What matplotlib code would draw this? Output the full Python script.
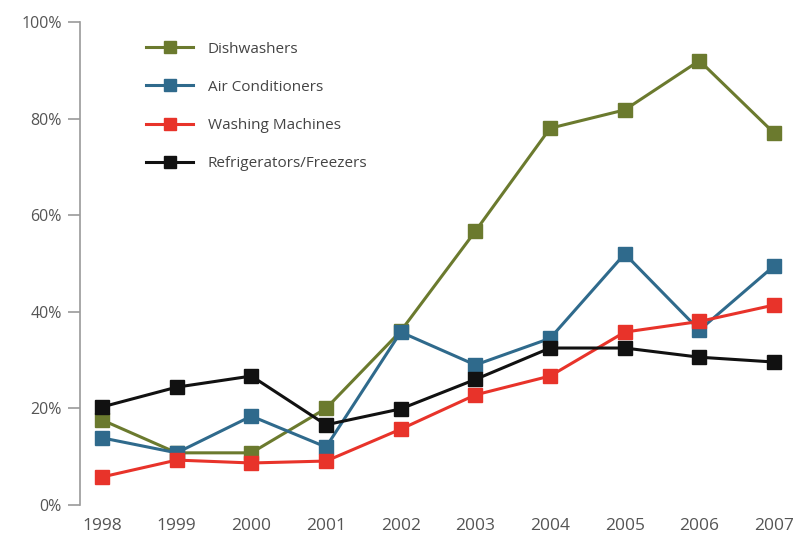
import numpy as np
import matplotlib
matplotlib.use("Agg")
import matplotlib.pyplot as plt

years = [1998, 1999, 2000, 2001, 2002, 2003, 2004, 2005, 2006, 2007]
dishwashers = [17.6, 10.8, 10.8, 20.0, 36.0, 56.7, 78.0, 81.8, 92.0, 77.0]
air_conditioners = [13.9, 10.8, 18.4, 12.0, 35.8, 29.0, 34.5, 52.0, 36.2, 49.5]
washing_machines = [5.8, 9.3, 8.7, 9.1, 15.7, 22.8, 26.7, 35.8, 38.0, 41.4]
refrigerators = [20.3, 24.4, 26.7, 16.6, 19.9, 26.0, 32.5, 32.5, 30.6, 29.6]

series = [
    ("Dishwashers", dishwashers, "#6b7a2e"),
    ("Air Conditioners", air_conditioners, "#2f6a8c"),
    ("Washing Machines", washing_machines, "#e8332a"),
    ("Refrigerators/Freezers", refrigerators, "#111111"),
]

plt.rcParams['font.family'] = ['Open Sans', 'DejaVu Sans']

fig = plt.figure(figsize=(8.07, 5.36), dpi=100)
ax = fig.add_axes([80 / 807, 31 / 536, 715 / 807, 483 / 536])

for label, vals, col in series:
    ax.plot(years, vals, color=col, linewidth=2.2, marker="s", markersize=10.5, label=label)

ax.set_xlim(1997.705, 2007.28)
ax.set_ylim(0, 100)
ax.set_yticks([0, 20, 40, 60, 80, 100])
ax.set_yticklabels(["0%", "20%", "40%", "60%", "80%", "100%"])
ax.set_xticks(years)
ax.set_xticklabels([str(y) for y in years])

for s in ["top", "right", "bottom"]:
    ax.spines[s].set_visible(False)
ax.spines["left"].set_color("#9a9a9a")
ax.spines["left"].set_linewidth(1.2)
ax.tick_params(axis="y", length=9, width=1.2, color="#9a9a9a", labelsize=11.5, labelcolor="#555555", pad=4)
ax.tick_params(axis="x", length=0, labelsize=12.5, labelcolor="#555555", pad=9)

# legend sits inside the plot, top left, no frame
ax.legend(loc="upper left", bbox_to_anchor=(0.073, 0.988), frameon=False, fontsize=11,
          labelspacing=1.52, handlelength=3.1, handletextpad=0.95, markerscale=0.85,
          labelcolor="#444444")

fig.savefig("out.png", dpi=100)
